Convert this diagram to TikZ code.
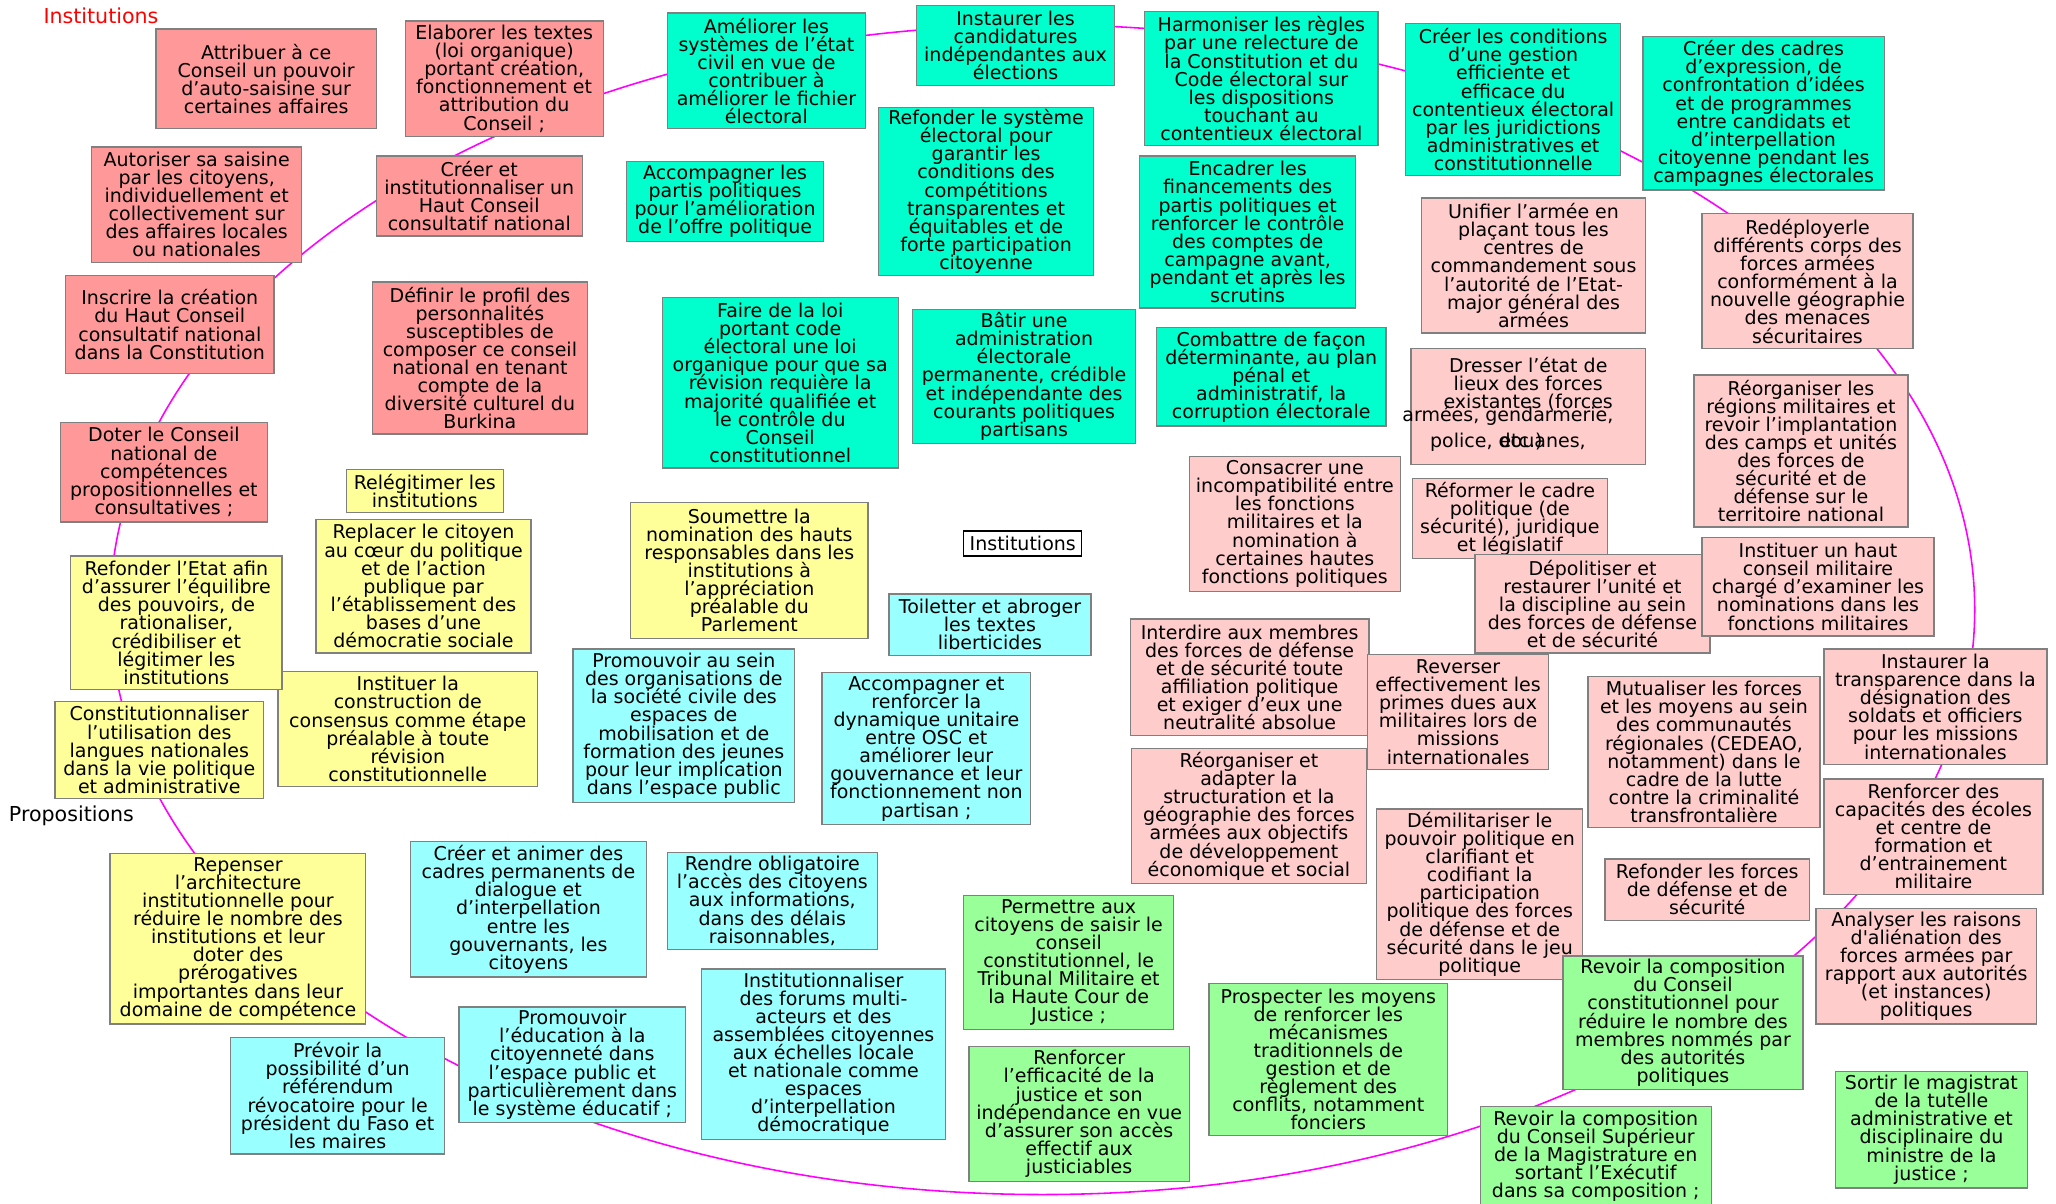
\documentclass[tikz,border=0pt]{standalone}
\usepackage{fontspec}
\setmainfont{DejaVu Sans}

\definecolor{salmon}{HTML}{FF9999}
\definecolor{rosepale}{HTML}{FFCCCC}
\definecolor{turq}{HTML}{00FFCC}
\definecolor{cyanpale}{HTML}{99FFFF}
\definecolor{jaune}{HTML}{FFFF99}
\definecolor{vert}{HTML}{99FF99}
\definecolor{bord}{HTML}{808080}
\definecolor{anneau}{HTML}{FF00FF}

\newcommand{\boxfont}{\fontsize{14.5}{13.8}\selectfont\lineskiplimit=-30pt\relax}
\newcommand{\labfont}{\fontsize{15.7}{18}\selectfont}

\tikzset{
    box/.style={draw=bord, line width=1pt, inner sep=0pt, align=center, font=\boxfont},
    dims/.style 2 args={minimum width=#1, minimum height=#2},
    ring/.style={draw=anneau, line width=1.2pt},
}

\begin{document}
\begin{tikzpicture}[x=1pt, y=-1pt]
    \useasboundingbox (0,0) rectangle (1568,918);
    \fill[white] (0,0) rectangle (1568,918);

    % the ring behind the boxes
    \coordinate (ringc) at (795,465);
    \draw [ring] (ringc) ellipse [x radius=711pt, y radius=446pt];

    % titles
    \node [font=\labfont, text=red, inner sep=0pt] (titre) at (77,12) {Institutions};
    \node [font=\labfont, inner sep=0pt] (propos) at (54.5,622) {Propositions};
    \node [draw=black, line width=1pt, fill=white, dims={90}{19}, inner sep=0pt, font=\boxfont] (centre) at (780,414.5) {Institutions};

    % Haut Conseil
    \node [box, fill=salmon, dims={168}{76}] (attrib) at (203,60) {Attribuer à ce\\Conseil un pouvoir\\d’auto-saisine sur\\certaines affaires};
    \node [box, fill=salmon, dims={151}{88}] (elabor) at (384.5,60) {Elaborer les textes\\(loi organique)\\portant création,\\fonctionnement et\\attribution du\\Conseil ;};
    \node [box, fill=salmon, dims={157}{61}] (creerhc) at (365.5,149.5) {Créer et\\institutionnaliser un\\Haut Conseil\\consultatif national};
    \node [box, fill=salmon, dims={160}{88}] (autor) at (150,156) {Autoriser sa saisine\\par les citoyens,\\individuellement et\\collectivement sur\\des affaires locales\\ou nationales};
    \node [box, fill=salmon, dims={159}{75}] (inscr) at (129.5,247.5) {Inscrire la création\\du Haut Conseil\\consultatif national\\dans la Constitution};
    \node [box, fill=salmon, dims={164}{116}] (defin) at (366,273) {Définir le profil des\\personnalités\\susceptibles de\\composer ce conseil\\national en tenant\\compte de la\\diversité culturel du\\Burkina};
    \node [box, fill=salmon, dims={158}{76}] (doter) at (125,360) {Doter le Conseil\\national de\\compétences\\propositionnelles et\\consultatives ;};

    % institutions
    \node [box, fill=jaune, dims={120}{33}] (releg) at (324,374.5) {Relégitimer les\\institutions};
    \node [box, fill=jaune, dims={164}{102}] (replac) at (323,447) {Replacer le citoyen\\au cœur du politique\\et de l’action\\publique par\\l’établissement des\\bases d’une\\démocratie sociale};
    \node [box, fill=jaune, dims={198}{88}] (instcons) at (311,556) {Instituer la\\construction de\\consensus comme étape\\préalable à toute\\révision\\constitutionnelle};
    \node [box, fill=jaune, dims={161}{102}] (refetat) at (134.5,475) {Refonder l’Etat afin\\d’assurer l’équilibre\\des pouvoirs, de\\rationaliser,\\crédibiliser et\\légitimer les\\institutions};
    \node [box, fill=jaune, dims={159}{74}] (constit) at (121.5,572) {Constitutionnaliser\\l’utilisation des\\langues nationales\\dans la vie politique\\et administrative};
    \node [box, fill=jaune, dims={181}{104}] (soumet) at (571.5,435) {Soumettre la\\nomination des hauts\\responsables dans les\\institutions à\\l’appréciation\\préalable du\\Parlement};
    \node [box, fill=jaune, dims={195}{130}] (repens) at (181.5,716) {Repenser\\l’architecture\\institutionnelle pour\\réduire le nombre des\\institutions et leur\\doter des\\prérogatives\\importantes dans leur\\domaine de compétence};

    % elections
    \node [box, fill=turq, dims={151}{88}] (amelio) at (584.5,54) {Améliorer les\\systèmes de l’état\\civil en vue de\\contribuer à\\améliorer le fichier\\électoral};
    \node [box, fill=turq, dims={151}{61}] (instcand) at (774.5,34.5) {Instaurer les\\candidatures\\indépendantes aux\\élections};
    \node [box, fill=turq, dims={178}{102}] (harmon) at (962,60) {Harmoniser les règles\\par une relecture de\\la Constitution et du\\Code électoral sur\\les dispositions\\touchant au\\contentieux électoral};
    \node [box, fill=turq, dims={164}{116}] (creercond) at (1154,76) {Créer les conditions\\d’une gestion\\efficiente et\\efficace du\\contentieux électoral\\par les juridictions\\administratives et\\constitutionnelle};
    \node [box, fill=turq, dims={184}{117}] (creercad) at (1345,86.5) {Créer des cadres\\d’expression, de\\confrontation d’idées\\et de programmes\\entre candidats et\\d’interpellation\\citoyenne pendant les\\campagnes électorales};
    \node [box, fill=turq, dims={150}{61}] (accpart) at (553,153.5) {Accompagner les\\partis politiques\\pour l’amélioration\\de l’offre politique};
    \node [box, fill=turq, dims={164}{128}] (refsyst) at (752,146) {Refonder le système\\électoral pour\\garantir les\\conditions des\\compétitions\\transparentes et\\équitables et de\\forte participation\\citoyenne};
    \node [box, fill=turq, dims={165}{116}] (encadr) at (951.5,177) {Encadrer les\\financements des\\partis politiques et\\renforcer le contrôle\\des comptes de\\campagne avant,\\pendant et après les\\scrutins};
    \node [box, fill=turq, dims={180}{130}] (fairelo) at (595,292) {Faire de la loi\\portant code\\électoral une loi\\organique pour que sa\\révision requière la\\majorité qualifiée et\\le contrôle du\\Conseil\\constitutionnel};
    \node [box, fill=turq, dims={170}{102}] (batir) at (781,287) {Bâtir une\\administration\\électorale\\permanente, crédible\\et indépendante des\\courants politiques\\partisans};
    \node [box, fill=turq, dims={175}{75}] (combat) at (969.5,287.5) {Combattre de façon\\déterminante, au plan\\pénal et\\administratif, la\\corruption électorale};

    % forces de defense et de securite
    \node [box, fill=rosepale, dims={171}{103}] (unifier) at (1169.5,202.5) {Unifier l’armée en\\plaçant tous les\\centres de\\commandement sous\\l’autorité de l’Etat-\\major général des\\armées};
    \node [box, fill=rosepale, dims={179}{88}] (dresser) at (1165.5,310) {};
    \node [font=\boxfont, align=center, inner sep=0pt] (dresser-a) at (1165.5,293) {Dresser l’état de\\lieux des forces\\existantes (forces};
    \node [font=\boxfont, inner sep=0pt] (dresser-b) at (1150,317) {armées, gendarmerie,};
    \node [font=\boxfont, inner sep=0pt] (dresser-c) at (1150,337) {police, douanes,};
    \node [font=\boxfont, inner sep=0pt] (dresser-d) at (1160,337) {etc.)};
    \node [box, fill=rosepale, dims={161}{103}] (redepl) at (1378.5,214.5) {Redéployerle\\différents corps des\\forces armées\\conformément à la\\nouvelle géographie\\des menaces\\sécuritaires};
    \node [box, fill=rosepale, dims={163}{116}] (reorgreg) at (1373.5,344) {Réorganiser les\\régions militaires et\\revoir l’implantation\\des camps et unités\\des forces de\\sécurité et de\\défense sur le\\territoire national};
    \node [box, fill=rosepale, dims={161}{103}] (consacr) at (987.5,399.5) {Consacrer une\\incompatibilité entre\\les fonctions\\militaires et la\\nomination à\\certaines hautes\\fonctions politiques};
    \node [box, fill=rosepale, dims={149}{61}] (reform) at (1151.5,395.5) {Réformer le cadre\\politique (de\\sécurité), juridique\\et législatif};
    \node [box, fill=rosepale, dims={179}{75}] (depolit) at (1214.5,460.5) {Dépolitiser et\\restaurer l’unité et\\la discipline au sein\\des forces de défense\\et de sécurité};
    \node [box, fill=rosepale, dims={177}{75}] (insthaut) at (1386.5,447.5) {Instituer un haut\\conseil militaire\\chargé d’examiner les\\nominations dans les\\fonctions militaires};
    \node [box, fill=rosepale, dims={182}{89}] (interd) at (953,516.5) {Interdire aux membres\\des forces de défense\\et de sécurité toute\\affiliation politique\\et exiger d’eux une\\neutralité absolue};
    \node [box, fill=rosepale, dims={138}{88}] (revers) at (1112,543) {Reverser\\effectivement les\\primes dues aux\\militaires lors de\\missions\\internationales};
    \node [box, fill=rosepale, dims={179}{103}] (reorgad) at (952.5,622.5) {Réorganiser et\\adapter la\\structuration et la\\géographie des forces\\armées aux objectifs\\de développement\\économique et social};
    \node [box, fill=rosepale, dims={177}{115}] (mutual) at (1299.5,573.5) {Mutualiser les forces\\et les moyens au sein\\des communautés\\régionales (CEDEAO,\\notamment) dans le\\cadre de la lutte\\contre la criminalité\\transfrontalière};
    \node [box, fill=rosepale, dims={170}{88}] (transp) at (1476,539) {Instaurer la\\transparence dans la\\désignation des\\soldats et officiers\\pour les missions\\internationales};
    \node [box, fill=rosepale, dims={167}{88}] (renfcap) at (1474.5,638) {Renforcer des\\capacités des écoles\\et centre de\\formation et\\d’entrainement\\militaire};
    \node [box, fill=rosepale, dims={157}{130}] (demilit) at (1128.5,682) {Démilitariser le\\pouvoir politique en\\clarifiant et\\codifiant la\\participation\\politique des forces\\de défense et de\\sécurité dans le jeu\\politique};
    \node [box, fill=rosepale, dims={156}{47}] (refforc) at (1302,678.5) {Refonder les forces\\de défense et de\\sécurité};
    \node [box, fill=rosepale, dims={168}{88}] (analys) at (1469,737) {Analyser les raisons\\d\textquotesingle aliénation des\\forces armées par\\rapport aux autorités\\(et instances)\\politiques};

    % societe civile
    \node [box, fill=cyanpale, dims={154}{47}] (toilet) at (755,476.5) {Toiletter et abroger\\les textes\\liberticides};
    \node [box, fill=cyanpale, dims={169}{117}] (promsein) at (521.5,553.5) {Promouvoir au sein\\des organisations de\\la société civile des\\espaces de\\mobilisation et de\\formation des jeunes\\pour leur implication\\dans l’espace public};
    \node [box, fill=cyanpale, dims={159}{116}] (accrenf) at (706.5,571) {Accompagner et\\renforcer la\\dynamique unitaire\\entre OSC et\\améliorer leur\\gouvernance et leur\\fonctionnement non\\partisan ;};
    \node [box, fill=cyanpale, dims={180}{103}] (creeranim) at (403,693.5) {Créer et animer des\\cadres permanents de\\dialogue et\\d’interpellation\\entre les\\gouvernants, les\\citoyens};
    \node [box, fill=cyanpale, dims={160}{74}] (rendre) at (589,687) {Rendre obligatoire\\l’accès des citoyens\\aux informations,\\dans des délais\\raisonnables,};
    \node [box, fill=cyanpale, dims={163}{89}] (prevoir) at (257.5,835.5) {Prévoir la\\possibilité d’un\\référendum\\révocatoire pour le\\président du Faso et\\les maires};
    \node [box, fill=cyanpale, dims={173}{88}] (promeduc) at (436.5,812) {Promouvoir\\l’éducation à la\\citoyenneté dans\\l’espace public et\\particulièrement dans\\le système éducatif ;};
    \node [box, fill=cyanpale, dims={186}{130}] (forums) at (628,804) {Institutionnaliser\\des forums multi-\\acteurs et des\\assemblées citoyennes\\aux échelles locale\\et nationale comme\\espaces\\d’interpellation\\démocratique};

    % justice
    \node [box, fill=vert, dims={160}{102}] (permet) at (815,734) {Permettre aux\\citoyens de saisir le\\conseil\\constitutionnel, le\\Tribunal Militaire et\\la Haute Cour de\\Justice ;};
    \node [box, fill=vert, dims={168}{103}] (renfeff) at (823,849.5) {Renforcer\\l’efficacité de la\\justice et son\\indépendance en vue\\d’assurer son accès\\effectif aux\\justiciables};
    \node [box, fill=vert, dims={182}{116}] (prospec) at (1013,808) {Prospecter les moyens\\de renforcer les\\mécanismes\\traditionnels de\\gestion et de\\règlement des\\conflits, notamment\\fonciers};
    \node [box, fill=vert, dims={183}{102}] (revoircc) at (1283.5,780) {Revoir la composition\\du Conseil\\constitutionnel pour\\réduire le nombre des\\membres nommés par\\des autorités\\politiques};
    \node [box, fill=vert, dims={176}{76}] (revoircsm) at (1217,882) {Revoir la composition\\du Conseil Supérieur\\de la Magistrature en\\sortant l’Exécutif\\dans sa composition ;};
    \node [box, fill=vert, dims={146}{89}] (sortir) at (1473,861.5) {Sortir le magistrat\\de la tutelle\\administrative et\\disciplinaire du\\ministre de la\\justice ;};

\end{tikzpicture}
\end{document}
